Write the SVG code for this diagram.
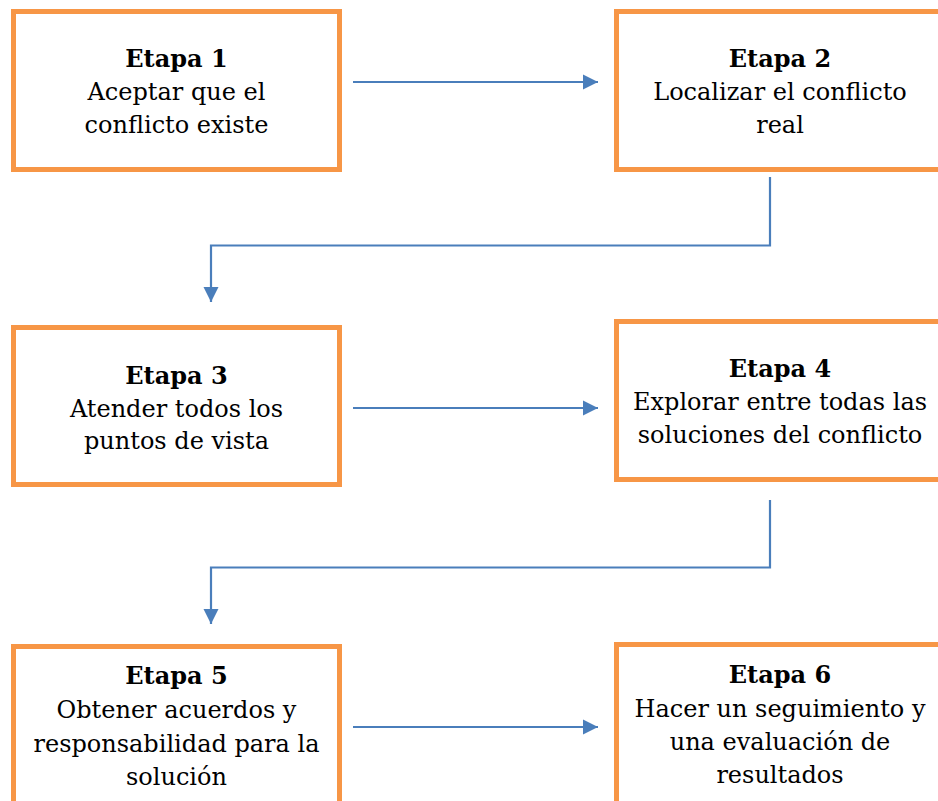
<svg xmlns="http://www.w3.org/2000/svg" width="938" height="801" viewBox="0 0 938 801">
  <defs>
    <style>
      .box { fill: #ffffff; stroke: #F79646; stroke-width: 5; }
      .conn { fill: none; stroke: #4A7EBB; stroke-width: 2.2; }
      .b { font-weight: bold; }
    </style>
    <marker id="arrow" markerWidth="8" markerHeight="8" refX="7" refY="3.5" orient="auto" markerUnits="strokeWidth">
      <path d="M0,0 L7,3.5 L0,7 Z" fill="#4A7EBB"/>
    </marker>
  </defs>
  <rect width="938" height="801" fill="#ffffff"/>

  <!-- connectors -->
  <g id="connectors">
    <path class="conn" d="M353,82 H598" marker-end="url(#arrow)"/>
    <path class="conn" d="M770,177 V245.5 H211 V302" marker-end="url(#arrow)"/>
    <path class="conn" d="M353,408 H598" marker-end="url(#arrow)"/>
    <path class="conn" d="M770,500 V567.5 H211 V624" marker-end="url(#arrow)"/>
    <path class="conn" d="M353,727 H598" marker-end="url(#arrow)"/>
  </g>

  <g font-family="'DejaVu Serif', serif" font-size="24" fill="#000000" text-anchor="middle">
  <g id="etapa1">
    <rect class="box" x="13.5" y="11.5" width="326" height="158"/>
    <text class="b" x="176.5" y="67">Etapa 1</text>
    <text x="176.5" y="100">Aceptar que el</text>
    <text x="176.5" y="133">conflicto existe</text>
  </g>

  <g id="etapa2">
    <rect class="box" x="616.5" y="11.5" width="330" height="158"/>
    <text class="b" x="780" y="67">Etapa 2</text>
    <text x="780" y="100">Localizar el conflicto</text>
    <text x="780" y="133">real</text>
  </g>

  <g id="etapa3">
    <rect class="box" x="13.5" y="327.5" width="326" height="157"/>
    <text class="b" x="176.5" y="384">Etapa 3</text>
    <text x="176.5" y="416.5">Atender todos los</text>
    <text x="176.5" y="449">puntos de vista</text>
  </g>

  <g id="etapa4">
    <rect class="box" x="616.5" y="321.5" width="330" height="158"/>
    <text class="b" x="780" y="377">Etapa 4</text>
    <text x="780" y="410">Explorar entre todas las</text>
    <text x="780" y="443">soluciones del conflicto</text>
  </g>

  <g id="etapa5">
    <rect class="box" x="13.5" y="646.5" width="326" height="170"/>
    <text class="b" x="176.5" y="684">Etapa 5</text>
    <text x="176.5" y="718">Obtener acuerdos y</text>
    <text x="176.5" y="752">responsabilidad para la</text>
    <text x="176.5" y="785">solución</text>
  </g>

  <g id="etapa6">
    <rect class="box" x="616.5" y="644.5" width="330" height="170"/>
    <text class="b" x="780" y="683">Etapa 6</text>
    <text x="780" y="717">Hacer un seguimiento y</text>
    <text x="780" y="750">una evaluación de</text>
    <text x="780" y="783">resultados</text>
  </g>
  </g>
</svg>
